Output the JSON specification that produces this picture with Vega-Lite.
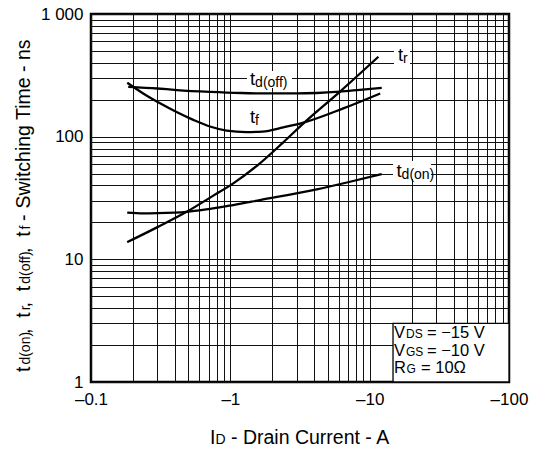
{
  "$schema": "https://vega.github.io/schema/vega-lite/v6.json",
  "width": 418,
  "height": 368,
  "autosize": {"type": "none"},
  "padding": {"left": 91, "top": 14, "right": 28, "bottom": 67},
  "background": "white",
  "config": {
    "view": {"stroke": "black", "strokeWidth": 2.5},
    "font": "Liberation Sans",
    "axis": {
      "domain": false,
      "ticks": false,
      "grid": true,
      "gridColor": "#111111",
      "gridWidth": 1,
      "gridOpacity": 1,
      "labelFont": "Liberation Sans",
      "labelFontSize": 17,
      "labelColor": "black",
      "labelOverlap": false,
      "title": null
    }
  },
  "datasets": {
    "curves": [
      {"series": "tr", "x": 0.182, "y": 13.8},
      {"series": "tr", "x": 0.3, "y": 18.3},
      {"series": "tr", "x": 0.486, "y": 24.4},
      {"series": "tr", "x": 0.75, "y": 32.9},
      {"series": "tr", "x": 1.05, "y": 41.6},
      {"series": "tr", "x": 1.63, "y": 60.6},
      {"series": "tr", "x": 2.4, "y": 90},
      {"series": "tr", "x": 3.44, "y": 132},
      {"series": "tr", "x": 6.1, "y": 232},
      {"series": "tr", "x": 11.55, "y": 448},
      {"series": "tf", "x": 0.182, "y": 275},
      {"series": "tf", "x": 0.237, "y": 225},
      {"series": "tf", "x": 0.313, "y": 187},
      {"series": "tf", "x": 0.542, "y": 137},
      {"series": "tf", "x": 0.714, "y": 121},
      {"series": "tf", "x": 0.942, "y": 112},
      {"series": "tf", "x": 1.3, "y": 109},
      {"series": "tf", "x": 1.7, "y": 110},
      {"series": "tf", "x": 2.4, "y": 119},
      {"series": "tf", "x": 3.34, "y": 130},
      {"series": "tf", "x": 6.47, "y": 170},
      {"series": "tf", "x": 11.9, "y": 225},
      {"series": "tdoff", "x": 0.185, "y": 255},
      {"series": "tdoff", "x": 0.3, "y": 247},
      {"series": "tdoff", "x": 0.413, "y": 240},
      {"series": "tdoff", "x": 0.714, "y": 232},
      {"series": "tdoff", "x": 1.2, "y": 227},
      {"series": "tdoff", "x": 2, "y": 225},
      {"series": "tdoff", "x": 3, "y": 225},
      {"series": "tdoff", "x": 4.17, "y": 227},
      {"series": "tdoff", "x": 6.1, "y": 233},
      {"series": "tdoff", "x": 8.5, "y": 241},
      {"series": "tdoff", "x": 12.2, "y": 250},
      {"series": "tdon", "x": 0.182, "y": 24},
      {"series": "tdon", "x": 0.237, "y": 23.7},
      {"series": "tdon", "x": 0.3, "y": 23.8},
      {"series": "tdon", "x": 0.486, "y": 24.4},
      {"series": "tdon", "x": 1.05, "y": 27.7},
      {"series": "tdon", "x": 1.63, "y": 30.4},
      {"series": "tdon", "x": 4.17, "y": 37.2},
      {"series": "tdon", "x": 7.23, "y": 42.9},
      {"series": "tdon", "x": 12.2, "y": 49.6}
    ],
    "boxes": [
      {"kind": "label", "x": 14.95, "x2": 19.48, "y": 376.8, "y2": 569.3},
      {"kind": "label", "x": 1.317, "x2": 2.771, "y": 249.3, "y2": 343.0},
      {"kind": "label", "x": 14.71, "x2": 27.55, "y": 45.2, "y2": 63.3},
      {"kind": "legend", "x": 14.71, "x2": 100, "y": 1, "y2": 3}
    ],
    "texts": [
      {"text": "t", "role": "main", "x": 15.97, "y": 410.1},
      {"text": "r", "role": "sub", "x": 17.38, "y": 410.1},
      {"text": "t", "role": "main", "x": 1.384, "y": 263.8},
      {"text": "d(off)", "role": "sub", "x": 1.506, "y": 263.8},
      {"text": "t", "role": "main", "x": 1.384, "y": 129.2},
      {"text": "f", "role": "sub", "x": 1.506, "y": 129.2},
      {"text": "t", "role": "main", "x": 15.58, "y": 46.9},
      {"text": "d(on)", "role": "sub", "x": 16.95, "y": 46.9},
      {"text": "V", "role": "lmain", "x": 14.95, "y": 2.263},
      {"text": "DS", "role": "lsub", "x": 18.24, "y": 2.263},
      {"text": "= −15 V", "role": "lmain", "x": 25.79, "y": 2.263},
      {"text": "V", "role": "lmain", "x": 14.95, "y": 1.629},
      {"text": "GS", "role": "lsub", "x": 18.24, "y": 1.629},
      {"text": "= −10 V", "role": "lmain", "x": 25.79, "y": 1.629},
      {"text": "R", "role": "lmain", "x": 14.95, "y": 1.173},
      {"text": "G", "role": "lsub", "x": 18.38, "y": 1.173},
      {"text": "= 10Ω", "role": "lmain", "x": 23.36, "y": 1.173},
      {"text": "I", "role": "tmain", "x": 0.7145, "y": 0.31224},
      {"text": "D", "role": "tsub", "x": 0.7838, "y": 0.31224},
      {"text": "- Drain Current - A", "role": "tmain", "x": 1.0111, "y": 0.31224},
      {"text": "t", "role": "vmain", "x": 0.03649, "y": 1.2068},
      {"text": "d(on)", "role": "vsub", "x": 0.03649, "y": 1.335},
      {"text": ",\u00a0\u00a0t", "role": "vmain", "x": 0.03649, "y": 2.4663},
      {"text": "r", "role": "vsub", "x": 0.03649, "y": 3.7074},
      {"text": ",\u00a0\u00a0t", "role": "vmain", "x": 0.03649, "y": 4.0489},
      {"text": "d(off)", "role": "vsub", "x": 0.03649, "y": 6.0833},
      {"text": ",\u00a0\u00a0t", "role": "vmain", "x": 0.03649, "y": 11.238},
      {"text": "f", "role": "vsub", "x": 0.03649, "y": 16.894},
      {"text": "-", "role": "vmain", "x": 0.03649, "y": 20.54},
      {"text": "Switching Time - ns", "role": "vmain", "x": 0.03649, "y": 25.97}
    ]
  },
  "encoding": {
    "x": {
      "field": "x",
      "type": "quantitative",
      "scale": {"type": "log", "domain": [0.1, 100], "nice": false},
      "axis": {
        "values": [0.1, 0.2, 0.3, 0.4, 0.5, 0.6, 0.7, 0.8, 0.9, 1, 2, 3, 4, 5, 6, 7, 8, 9, 10, 20, 30, 40, 50, 60, 70, 80, 90, 100],
        "labelExpr": "indexof([0.1, 1, 10, 100], datum.value) >= 0 ? '–' + datum.value : ''",
        "labelFlush": false,
        "labelPadding": 9.5,
        "title": null
      }
    },
    "y": {
      "field": "y",
      "type": "quantitative",
      "scale": {"type": "log", "domain": [1, 1000], "nice": false},
      "axis": {
        "values": [1, 2, 3, 4, 5, 6, 7, 8, 9, 10, 20, 30, 40, 50, 60, 70, 80, 90, 100, 200, 300, 400, 500, 600, 700, 800, 900, 1000],
        "labelExpr": "datum.value == 1000 ? '1 000' : (indexof([1, 10, 100], datum.value) >= 0 ? '' + datum.value : '')",
        "labelPadding": 8,
        "title": null
      }
    }
  },
  "layer": [
    {
      "data": {"name": "boxes"},
      "transform": [{"filter": "datum.kind == 'label'"}],
      "mark": {"type": "rect", "fill": "white"},
      "encoding": {"x2": {"field": "x2"}, "y2": {"field": "y2"}}
    },
    {
      "data": {"name": "boxes"},
      "transform": [{"filter": "datum.kind == 'legend'"}],
      "mark": {"type": "rect", "fill": "white", "stroke": "black", "strokeWidth": 1.3},
      "encoding": {"x2": {"field": "x2"}, "y2": {"field": "y2"}}
    },
    {
      "data": {"name": "curves"},
      "mark": {"type": "line", "color": "black", "strokeWidth": 2.3, "interpolate": "monotone"},
      "encoding": {"detail": {"field": "series", "type": "nominal"}}
    },
    {
      "data": {"name": "texts"},
      "transform": [{"filter": "datum.role == 'main'"}],
      "mark": {"type": "text", "font": "Liberation Sans", "fontSize": 18.5, "align": "left", "baseline": "alphabetic", "color": "black"},
      "encoding": {"text": {"field": "text"}}
    },
    {
      "data": {"name": "texts"},
      "transform": [{"filter": "datum.role == 'sub'"}],
      "mark": {"type": "text", "font": "Liberation Sans", "fontSize": 14, "align": "left", "baseline": "alphabetic", "dy": 2, "color": "black"},
      "encoding": {"text": {"field": "text"}}
    },
    {
      "data": {"name": "texts"},
      "transform": [{"filter": "datum.role == 'lmain'"}],
      "mark": {"type": "text", "font": "Liberation Sans", "fontSize": 16.5, "align": "left", "baseline": "alphabetic", "color": "black"},
      "encoding": {"text": {"field": "text"}}
    },
    {
      "data": {"name": "texts"},
      "transform": [{"filter": "datum.role == 'lsub'"}],
      "mark": {"type": "text", "font": "Liberation Sans", "fontSize": 12, "align": "left", "baseline": "alphabetic", "color": "black"},
      "encoding": {"text": {"field": "text"}}
    },
    {
      "data": {"name": "texts"},
      "transform": [{"filter": "datum.role == 'tmain'"}],
      "mark": {"type": "text", "font": "Liberation Sans", "fontSize": 19.5, "align": "left", "baseline": "alphabetic", "color": "black"},
      "encoding": {"text": {"field": "text"}}
    },
    {
      "data": {"name": "texts"},
      "transform": [{"filter": "datum.role == 'tsub'"}],
      "mark": {"type": "text", "font": "Liberation Sans", "fontSize": 14, "align": "left", "baseline": "alphabetic", "color": "black"},
      "encoding": {"text": {"field": "text"}}
    },
    {
      "data": {"name": "texts"},
      "transform": [{"filter": "datum.role == 'vmain'"}],
      "mark": {"type": "text", "font": "Liberation Sans", "fontSize": 19.5, "align": "left", "baseline": "alphabetic", "angle": 270, "color": "black"},
      "encoding": {"text": {"field": "text"}}
    },
    {
      "data": {"name": "texts"},
      "transform": [{"filter": "datum.role == 'vsub'"}],
      "mark": {"type": "text", "font": "Liberation Sans", "fontSize": 14, "align": "left", "baseline": "alphabetic", "angle": 270, "dx": 2, "color": "black"},
      "encoding": {"text": {"field": "text"}}
    }
  ]
}
